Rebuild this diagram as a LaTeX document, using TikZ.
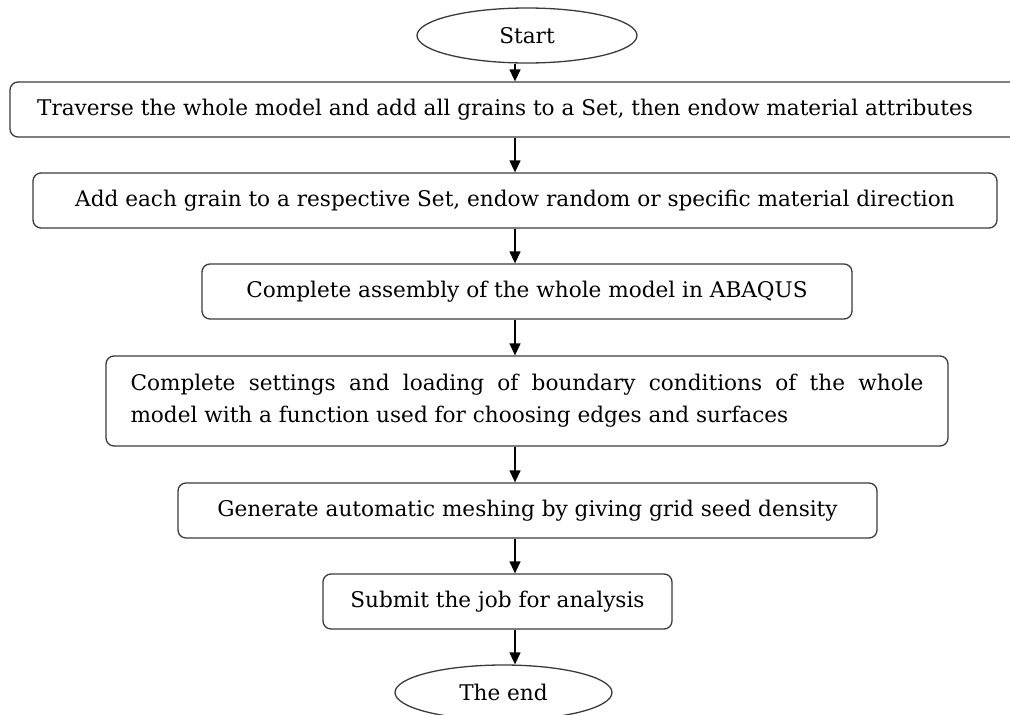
\documentclass[tikz,border=0pt]{standalone}
\usepackage{fontspec}
\setmainfont{DejaVu Serif}
\usepackage{tikz}
\usetikzlibrary{arrows.meta,shapes.geometric}
\definecolor{boxline}{HTML}{3A3A3A}

\begin{document}
\begin{tikzpicture}[x=1pt,y=-1pt,
  every node/.style={font=\fontsize{21.6}{32}\selectfont,inner sep=0pt},
  procbox/.style={draw=boxline,line width=1.3pt,rounded corners=8pt,
    minimum height=55pt,align=center},
  termnode/.style={draw=boxline,line width=1.3pt,ellipse,minimum width=220pt,
    minimum height=55pt},
  flow/.style={-{Triangle[width=11pt,length=12pt]},line width=1.3pt,black}]
\useasboundingbox (0,0) rectangle (1010,715);
\coordinate (ax) at (515,0);
\node[termnode] (start) at (527,35.5) {Start};
\node[procbox,minimum width=1010pt] (traverse) at (515,109.5)
  {Traverse the whole model and add all grains to a Set, then endow material attributes\hspace*{20pt}};
\node[procbox,minimum width=964pt] (grainset) at (515,200.5)
  {Add each grain to a respective Set, endow random or specific material direction};
\node[procbox,minimum width=650pt] (assembly) at (527,291.5)
  {Complete assembly of the whole model in ABAQUS};
\node[procbox,minimum width=842pt,minimum height=90pt,text width=793pt,align=justify] (boundary) at (527,401)
  {Complete settings and loading of boundary conditions of the whole\linebreak
   model with a function used for choosing edges and surfaces};
\node[procbox,minimum width=699pt] (mesh) at (527.5,510.5)
  {Generate automatic meshing by giving grid seed density};
\node[procbox,minimum width=349pt] (submit) at (497.5,601.5)
  {Submit the job for analysis};
\node[termnode,minimum width=217pt] (theend) at (503.5,692.5) {The end};
% vertical flow, all arrows on one line
\draw[flow] (start.south -| ax) -- (traverse.north -| ax);
\draw[flow] (traverse.south -| ax) -- (grainset.north -| ax);
\draw[flow] (grainset.south -| ax) -- (assembly.north -| ax);
\draw[flow] (assembly.south -| ax) -- (boundary.north -| ax);
\draw[flow] (boundary.south -| ax) -- (mesh.north -| ax);
\draw[flow] (mesh.south -| ax) -- (submit.north -| ax);
\draw[flow] (submit.south -| ax) -- (theend.north -| ax);
\end{tikzpicture}
\end{document}
